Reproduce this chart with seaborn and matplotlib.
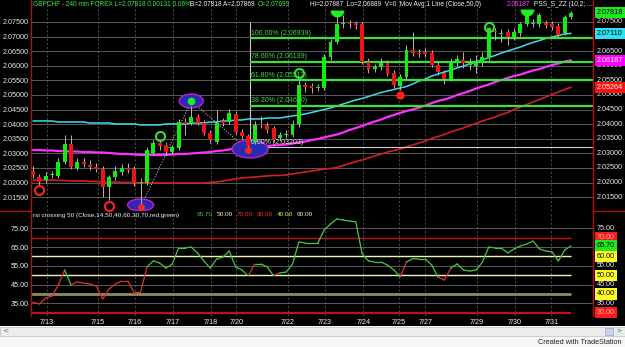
import numpy as np
import pandas as pd
import matplotlib
matplotlib.use("Agg")
import matplotlib.pyplot as plt
import matplotlib.transforms as mtrans
from matplotlib.patches import Ellipse, Rectangle
from matplotlib.path import Path
from matplotlib.lines import Line2D
import seaborn as sns

# ---------------- data ----------------
opens = [2.02397, 2.02192, 2.02089, 2.02260, 2.02226, 2.02705, 2.03322, 2.02500, 2.02705, 2.02603,
         2.02534, 2.02466, 2.01849, 2.02192, 2.02363, 2.02500, 2.02466, 2.01986, 2.01986, 2.03014,
         2.03356, 2.03288, 2.03048, 2.03185, 2.04075, 2.04041, 2.04247, 2.04041, 2.03699, 2.03390,
         2.04110, 2.04075, 2.04349, 2.03733, 2.03596, 2.03390, 2.04007, 2.03973, 2.03870, 2.03527,
         2.03630, 2.03630, 2.04007, 2.05342, 2.05308, 2.05240, 2.05240, 2.06301, 2.06815, 2.07432,
         2.07466, 2.07466, 2.07432, 2.06130, 2.05890, 2.05959, 2.06096, 2.05753, 2.05308, 2.05616,
         2.06541, 2.06438, 2.06473, 2.06438, 2.06027, 2.05753, 2.05548, 2.06096, 2.06199, 2.06027,
         2.05993, 2.06096, 2.06267, 2.07192, 2.07089, 2.07158, 2.06986, 2.07123, 2.07432, 2.07432,
         2.07432, 2.07466, 2.07432, 2.07363, 2.07123, 2.07671]
highs = [2.02568, 2.02295, 2.02363, 2.02397, 2.02842, 2.03630, 2.03630, 2.02842, 2.02842, 2.02774,
         2.02671, 2.02568, 2.02260, 2.02568, 2.02637, 2.02671, 2.02568, 2.02158, 2.03219, 2.03459,
         2.03425, 2.03390, 2.03288, 2.04178, 2.04212, 2.04623, 2.04349, 2.04144, 2.03801, 2.04486,
         2.04212, 2.04521, 2.04452, 2.03836, 2.03664, 2.04110, 2.04281, 2.04075, 2.03938, 2.03733,
         2.03801, 2.04144, 2.05514, 2.05445, 2.05411, 2.05377, 2.06404, 2.06918, 2.07808, 2.07740,
         2.07568, 2.07534, 2.07500, 2.06267, 2.06062, 2.06267, 2.06199, 2.05856, 2.05719, 2.06712,
         2.07158, 2.06575, 2.06610, 2.06541, 2.06130, 2.05856, 2.06267, 2.06370, 2.06473, 2.06267,
         2.06370, 2.06473, 2.07329, 2.07295, 2.07260, 2.07260, 2.07295, 2.07500, 2.07808, 2.07603,
         2.07808, 2.07568, 2.07534, 2.07466, 2.07740, 2.07877]
lows = [2.02158, 2.01884, 2.01986, 2.02158, 2.02158, 2.02637, 2.02466, 2.02431, 2.02534, 2.02431,
        2.02363, 2.01507, 2.01404, 2.02089, 2.02260, 2.02329, 2.01884, 2.01164, 2.01918, 2.02945,
        2.03116, 2.02945, 2.02979, 2.03116, 2.03630, 2.03973, 2.03973, 2.03630, 2.03356, 2.03322,
        2.03938, 2.04007, 2.03664, 2.03493, 2.03203, 2.03322, 2.03870, 2.03699, 2.03390, 2.03425,
        2.03527, 2.03562, 2.03904, 2.05103, 2.05068, 2.05137, 2.05171, 2.06199, 2.06747, 2.07295,
        2.07295, 2.07260, 2.06062, 2.05753, 2.05788, 2.05856, 2.05651, 2.05240, 2.05171, 2.05548,
        2.06336, 2.06301, 2.06301, 2.05959, 2.05685, 2.05377, 2.05479, 2.05993, 2.05925, 2.05856,
        2.05753, 2.05993, 2.06199, 2.06884, 2.06815, 2.06712, 2.06884, 2.07021, 2.07363, 2.07329,
        2.07329, 2.07295, 2.07226, 2.06986, 2.07055, 2.07603]
closes = [2.02260, 2.02021, 2.02226, 2.02295, 2.02705, 2.03322, 2.02534, 2.02705, 2.02637, 2.02534,
          2.02466, 2.01849, 2.02192, 2.02397, 2.02500, 2.02431, 2.01986, 2.02021, 2.03116, 2.03356,
          2.03253, 2.03048, 2.03219, 2.04075, 2.04007, 2.04247, 2.04041, 2.03699, 2.03459, 2.04041,
          2.04041, 2.04384, 2.03733, 2.03596, 2.03253, 2.03973, 2.03973, 2.03801, 2.03459, 2.03630,
          2.03664, 2.04007, 2.05342, 2.05274, 2.05240, 2.05274, 2.06301, 2.06815, 2.07432, 2.07466,
          2.07432, 2.07397, 2.06130, 2.05856, 2.05959, 2.06096, 2.05719, 2.05342, 2.05616, 2.06541,
          2.06438, 2.06404, 2.06404, 2.06027, 2.05788, 2.05548, 2.06130, 2.06233, 2.06096, 2.06096,
          2.06130, 2.06301, 2.07295, 2.07158, 2.07123, 2.06986, 2.07158, 2.07432, 2.07740, 2.07466,
          2.07740, 2.07397, 2.07329, 2.07055, 2.07671, 2.07818]
ma_cyan = [2.04110, 2.04110, 2.04110, 2.04110, 2.04075, 2.04075, 2.04075, 2.04075, 2.04075, 2.04041,
           2.04041, 2.04041, 2.04041, 2.04007, 2.04007, 2.04007, 2.04007, 2.03973, 2.03973, 2.03973,
           2.03973, 2.04007, 2.04007, 2.04007, 2.04007, 2.04041, 2.04041, 2.04041, 2.04075, 2.04075,
           2.04110, 2.04110, 2.04144, 2.04144, 2.04178, 2.04178, 2.04178, 2.04212, 2.04212, 2.04212,
           2.04247, 2.04281, 2.04315, 2.04349, 2.04401, 2.04452, 2.04503, 2.04555, 2.04623, 2.04692,
           2.04760, 2.04829, 2.04880, 2.04949, 2.05017, 2.05086, 2.05137, 2.05188, 2.05240, 2.05291,
           2.05377, 2.05479, 2.05548, 2.05651, 2.05719, 2.05788, 2.05856, 2.05925, 2.05993, 2.06062,
           2.06130, 2.06199, 2.06284, 2.06353, 2.06438, 2.06507, 2.06575, 2.06644, 2.06729, 2.06798,
           2.06866, 2.06935, 2.06986, 2.07038, 2.07089, 2.07110]
ma_magenta = [2.03116, 2.03116, 2.03099, 2.03099, 2.03082, 2.03082, 2.03065, 2.03065, 2.03048, 2.03048,
              2.03031, 2.03031, 2.03014, 2.02997, 2.02979, 2.02979, 2.02962, 2.02945, 2.02945, 2.02945,
              2.02945, 2.02945, 2.02962, 2.02979, 2.02979, 2.02997, 2.03014, 2.03031, 2.03048, 2.03082,
              2.03099, 2.03134, 2.03168, 2.03185, 2.03202, 2.03219, 2.03236, 2.03253, 2.03271, 2.03288,
              2.03305, 2.03339, 2.03373, 2.03407, 2.03459, 2.03493, 2.03545, 2.03596, 2.03647, 2.03716,
              2.03801, 2.03870, 2.03938, 2.04024, 2.04092, 2.04161, 2.04247, 2.04315, 2.04384, 2.04452,
              2.04503, 2.04572, 2.04640, 2.04726, 2.04795, 2.04846, 2.04914, 2.05000, 2.05068, 2.05137,
              2.05223, 2.05291, 2.05360, 2.05445, 2.05514, 2.05582, 2.05651, 2.05702, 2.05771, 2.05839,
              2.05890, 2.05959, 2.06027, 2.06079, 2.06147, 2.06187]
ma_red = [2.02089, 2.02089, 2.02089, 2.02089, 2.02072, 2.02072, 2.02055, 2.02055, 2.02055, 2.02038,
          2.02038, 2.02021, 2.02021, 2.02021, 2.02003, 2.02003, 2.02003, 2.01986, 2.01986, 2.01986,
          2.01986, 2.01986, 2.01986, 2.01986, 2.01986, 2.01986, 2.01986, 2.01986, 2.02003, 2.02021,
          2.02055, 2.02089, 2.02123, 2.02158, 2.02175, 2.02192, 2.02209, 2.02226, 2.02243, 2.02243,
          2.02260, 2.02295, 2.02329, 2.02363, 2.02397, 2.02431, 2.02466, 2.02483, 2.02517, 2.02586,
          2.02654, 2.02723, 2.02774, 2.02842, 2.02911, 2.02979, 2.03048, 2.03099, 2.03151, 2.03219,
          2.03288, 2.03356, 2.03425, 2.03510, 2.03579, 2.03647, 2.03733, 2.03801, 2.03870, 2.03955,
          2.04024, 2.04110, 2.04178, 2.04247, 2.04332, 2.04401, 2.04503, 2.04589, 2.04675, 2.04760,
          2.04846, 2.04932, 2.05017, 2.05103, 2.05188, 2.05264]
rsi = [35.7, 34.6, 37.8, 38.9, 44.8, 52.8, 44.8, 46.4, 45.8, 45.3,
       44.2, 37.3, 42.6, 45.3, 46.9, 46.9, 40.5, 41.0, 54.4, 57.6,
       56.5, 53.8, 56.0, 64.5, 64.5, 65.0, 61.8, 57.6, 53.8, 58.6,
       59.7, 62.9, 54.4, 52.8, 49.6, 56.0, 56.0, 54.4, 49.8, 51.2,
       51.7, 56.0, 67.7, 67.2, 67.2, 67.2, 74.1, 77.3, 80.0, 79.4,
       78.9, 78.4, 61.3, 57.6, 57.0, 57.0, 55.4, 52.8, 49.2, 57.0,
       58.9, 58.6, 58.6, 55.4, 49.0, 47.4, 53.8, 56.0, 52.8, 52.2,
       52.8, 57.0, 65.0, 64.5, 64.5, 61.8, 64.0, 65.6, 66.6, 68.2,
       64.0, 62.9, 62.4, 57.6, 63.4, 65.7]

date_labels = ["7/13", "7/15", "7/16", "7/17", "7/18", "7/20", "7/22", "7/23",
               "7/24", "7/25", "7/27", "7/29", "7/30", "7/31"]
date_bars = [2.2, 10.2, 16.1, 22.1, 28.1, 32.1, 40.3, 46.1, 52.2, 57.8, 62.0, 70.1, 76.1, 81.9]
price_ticks = [2.015, 2.020, 2.025, 2.030, 2.035, 2.040, 2.045, 2.050, 2.055, 2.060, 2.065, 2.070, 2.075]
price_right_plain = [2.015, 2.020, 2.025, 2.030, 2.035, 2.040, 2.045, 2.050, 2.055, 2.060, 2.065, 2.075]
rsi_grid = [35, 45, 55, 65, 75]
rsi_left = [75, 65, 55, 45, 35]
rsi_right_plain = [75, 55, 45, 35]

fib_names = ["0.00%", "38.20%", "61.80%", "78.60%", "100.00%"]
fib_levels = [2.03203, 2.04630, 2.05512, 2.06139, 2.06939]
fib_start_bar = 34.3

low_circle_bars = [1, 12]
low_circle_prices = [2.01747, 2.01199]
high_circle_bars = [20, 42, 72]
high_circle_prices = [2.03596, 2.05753, 2.07329]
pivot_bars = [17, 25, 34]
pivot_prices = [2.01164, 2.04795, 2.03116]
ellipse_bars = [17, 25, 34.3]
ellipse_prices = [2.01233, 2.04795, 2.03151]
top_bars = [48, 78]
top_prices = [2.07911, 2.07945]
dot_bars = [58]
dot_prices = [2.05000]

last_price = 2.07818
ma_labels = [(2.07110, "#29e3f5"), (2.06187, "#ff00ff"), (2.05264, "#ff1010")]

# ---------------- layout helpers ----------------
W, H = 625, 347
X0, DX = 33.0, 6.33          # pixel of first bar, pixels per bar
L, R = 31, 593               # plot area edges (px)
P_TOP, P_BOT = 2.08253, 2.01027
R_TOP, R_BOT = 83.69, 28.25
PPX = (P_TOP - P_BOT) / 211.0

sns.set_theme(style="dark", rc={"axes.facecolor": "black", "axes.grid": False})
plt.rcParams['font.family'] = ['Liberation Sans', 'DejaVu Sans']

fig = plt.figure(figsize=(6.25, 3.47), dpi=100)
fig.patch.set_facecolor('#f7f7f7')
fig.patches.append(Rectangle((0, 1 - 326 / H), 1, 326 / H, transform=fig.transFigure,
                             facecolor='black', edgecolor='none', zorder=-10))

ax1 = fig.add_axes([L / W, 1 - 211 / H, (R - L) / W, 211 / H])
ax2 = fig.add_axes([L / W, 1 - 316 / H, (R - L) / W, (316 - 212) / H])
xlim = ((L - X0) / DX, (R - X0) / DX)
for ax in (ax1, ax2):
    ax.set_facecolor('black')
    ax.set_xlim(*xlim)
    for s in ax.spines.values():
        s.set_visible(False)
ax1.set_ylim(P_BOT, P_TOP)
ax2.set_ylim(R_BOT, R_TOP)

GRID = '#5a5a5a'
ax1.hlines(price_ticks, *xlim, color=GRID, lw=0.7, zorder=0.5)
ax2.hlines(rsi_grid, *xlim, color=GRID, lw=0.7, zorder=0.5)
for ax in (ax1, ax2):
    ax.vlines(date_bars, *ax.get_ylim(), color=GRID, lw=0.6, linestyles=(0, (2.5, 2.5)), zorder=0.6)

# ---------------- price panel ----------------
idx = np.arange(len(opens))
o, h, l, c = (np.array(v) for v in (opens, highs, lows, closes))
up = c >= o
min_h = 1.6 * PPX
raw_h = np.abs(c - o)
body_h = np.maximum(raw_h, min_h)
body_b = np.where(raw_h < min_h, (o + c) / 2 - min_h / 2, np.minimum(o, c))

df_ma = pd.DataFrame({'bar': idx, 'cyan': ma_cyan, 'magenta': ma_magenta, 'red': ma_red})
sns.lineplot(data=df_ma, x='bar', y='red', ax=ax1, color='#d42020', lw=1.2, zorder=2)
sns.lineplot(data=df_ma, x='bar', y='magenta', ax=ax1, color='#ff30ff', lw=1.6, zorder=2)
sns.lineplot(data=df_ma, x='bar', y='cyan', ax=ax1, color='#40dcf0', lw=1.1, zorder=2)

# fibonacci
ax1.vlines(fib_start_bar, fib_levels[0], 2.075, color='#c8c8c8', lw=0.8, zorder=2.2)
ax1.hlines(fib_levels[0], fib_start_bar, xlim[1], color='#d0d0d0', lw=0.8, zorder=2.2)
ax1.hlines(fib_levels[1:], fib_start_bar, xlim[1], color='#3ee03e', lw=1.6, zorder=2.2)

# zigzag
ax1.plot(pivot_bars, pivot_prices, color='#bdbdbd', lw=0.7, ls=(0, (1.2, 1.6)), zorder=2.4)

# ellipses
ell_w = [26, 24, 36]
ell_h = [12, 14, 18]
for b, p, w, hh in zip(ellipse_bars, ellipse_prices, ell_w, ell_h):
    ax1.add_patch(Ellipse((b, p), w / DX, hh * PPX, facecolor='#2a2ab4', edgecolor='#d020d0',
                          lw=0.9, zorder=2.5))

for k, (name, lev) in enumerate(zip(fib_names, fib_levels)):
    ax1.text(fib_start_bar + 0.1, lev + 1.5 * PPX, f"{name} ({lev:.5f})",
             color='#e6e6e6' if k == 0 else '#3ee03e', fontsize=5.0, ha='left', va='bottom', zorder=2.7)

ax1.vlines(idx, l, h, color='#b4b4b4', lw=0.7, zorder=3)
ax1.bar(idx, body_h, bottom=body_b, width=0.62,
        color=np.where(up, '#10ee10', '#ee1414'), linewidth=0, zorder=4)

# markers
ax1.plot(low_circle_bars, low_circle_prices, 'o', mfc='none', mec='#ff2020', ms=6.5, mew=1.5, ls='none', zorder=6)
ax1.plot(high_circle_bars, high_circle_prices, 'o', mfc='none', mec='#30e030', ms=6.5, mew=1.5, ls='none', zorder=6)
ax1.plot([pivot_bars[1]], [pivot_prices[1]], 'o', color='#20ee20', ms=5.5, mew=0, zorder=6)
ax1.plot([pivot_bars[0], pivot_bars[2]], [pivot_prices[0], pivot_prices[2]], 'o', color='#ff2020', ms=5, mew=0, zorder=6)
ax1.plot(dot_bars, dot_prices, 'o', color='#ff2020', ms=6, mew=0, zorder=6)
t = np.linspace(np.pi, 2 * np.pi, 24)
bowl = Path(np.column_stack([np.cos(t), np.sin(t)]))
ax1.plot(top_bars, top_prices, ls='none', marker=bowl, color='#20ee20', ms=10, mew=0, zorder=6)

# left tick labels
ax1.set_yticks(price_ticks)
ax1.set_yticklabels([f"{v:.5f}" for v in price_ticks])
ax1.set_xticks([])
ax1.tick_params(axis='y', labelsize=5.2, colors='#e8e8e8', length=0, pad=1.5)
ax1.set_xlabel(''); ax1.set_ylabel('')

# right price labels
tr1 = mtrans.blended_transform_factory(fig.transFigure, ax1.transData)
for v in price_right_plain:
    ax1.text(597 / W, v, f"{v:.5f}", transform=tr1, color='#e8e8e8', fontsize=5.2,
             ha='left', va='center', clip_on=False, zorder=7)
box_items = [(last_price, '#20e820', 'black')] + [(v, col, 'black' if col == '#29e3f5' else 'white') for v, col in ma_labels]
for v, col, tc in box_items:
    ax1.text(597 / W, v, f"{v:.5f}", transform=tr1, color=tc, fontsize=5.2, ha='left', va='center',
             clip_on=False, zorder=8,
             bbox=dict(boxstyle='square,pad=0.3', facecolor=col, edgecolor='none'))

# ---------------- RSI panel ----------------
ax2.hlines([60, 50], xlim[0], idx[-1], color='#f4f4b8', lw=1.0, zorder=1)
ax2.hlines(40, xlim[0], idx[-1], color='#8c8a62', lw=2.0, zorder=1)
ax2.hlines(70, xlim[0], idx[-1], color='#b81818', lw=1.0, zorder=1)
ax2.hlines(30, xlim[0], idx[-1], color='#c41010', lw=1.6, zorder=1)

rows = []
for k in range(len(rsi) - 1):
    state = 'up' if rsi[k] >= 50 else 'down'
    rows.append((k, rsi[k], k, state))
    rows.append((k + 1, rsi[k + 1], k, state))
df_rsi = pd.DataFrame(rows, columns=['bar', 'rsi', 'seg', 'state'])
sns.lineplot(data=df_rsi, x='bar', y='rsi', units='seg', estimator=None, hue='state',
             palette={'up': '#44c844', 'down': '#e03030'}, legend=False, lw=0.9, ax=ax2, zorder=5)

ax2.set_yticks(rsi_left)
ax2.set_yticklabels([f"{v:.2f}" for v in rsi_left])
ax2.set_xticks(date_bars)
ax2.set_xticklabels(date_labels)
ax2.tick_params(axis='both', labelsize=5.2, colors='#f0f0f0', length=0)
ax2.tick_params(axis='y', pad=1.5)
ax2.tick_params(axis='x', pad=2.5)
ax2.set_xlabel(''); ax2.set_ylabel('')

tr2 = mtrans.blended_transform_factory(fig.transFigure, ax2.transData)
for v in rsi_right_plain:
    ax2.text(597 / W, v, f"{v:.2f}", transform=tr2, color='#e8e8e8', fontsize=5.2,
             ha='left', va='center', clip_on=False, zorder=7)
rsi_boxes = [(70, '#ff1a1a', '#ffb0b0'), (rsi[-1], '#20e820', 'black'), (60, '#ffff20', 'black'),
             (50, '#ffff20', 'black'), (40, '#ffff20', 'black'), (30, '#ff1a1a', '#ffb0b0')]
for v, col, tc in rsi_boxes:
    ax2.text(597 / W, v, f"{v:.2f}", transform=tr2, color=tc, fontsize=5.2, ha='left', va='center',
             clip_on=False, zorder=8,
             bbox=dict(boxstyle='square,pad=0.3', facecolor=col, edgecolor='none'))

# ---------------- frame lines ----------------
def fline(x0, y0, x1, y1, col, lw=1.0):
    fig.add_artist(Line2D([x0 / W, x1 / W], [1 - y0 / H, 1 - y1 / H], color=col, lw=lw,
                          transform=fig.transFigure, zorder=9))

fline(L, 0, L, 316, '#b01010')
fline(R, 0, R, 316, '#b01010')
fline(0, 211, L, 211, '#b01010')
fline(R, 211, W, 211, '#b01010')

# ---------------- texts ----------------
def ftext(px, py, s, color, size=4.7, ha='left'):
    fig.text(px / W, 1 - py / H, s, color=color, fontsize=size, ha=ha, va='center', zorder=10)

GREEN = '#3cf03c'
ftext(33, 5, "GBPCHF - 240 min FOREX L=2.07818 0.00131 0.06%", GREEN)
ftext(190, 5, "B=2.07818 A=2.07869", '#f0f0f0')
ftext(258, 5, "O=2.07699", GREEN)
ftext(310, 5, "Hi=2.07887  Lo=2.06889  V=0  Mov Avg 1 Line (Close,50,0)", '#f0f0f0')
ftext(507, 5, "2.06187", '#ff40ff')
ftext(534, 5, "PSS_S_ZZ (10,2; ...", '#f0f0f0')

ftext(33, 215, "rsi crossing 50 (Close,14,50,40,60,30,70,red,green)", '#f0f0f0', size=4.6)
ftext(197, 215, "65.70", '#44c844', size=4.6)
ftext(217, 215, "50.00", '#f4f4b8', size=4.6)
ftext(237, 215, "70.00", '#ff3030', size=4.6)
ftext(257, 215, "30.00", '#ff3030', size=4.6)
ftext(277, 215, "40.00", '#f0f040', size=4.6)
ftext(297, 215, "60.00", '#f4f4b8', size=4.6)

# bottom scrollbar + credit
fig.patches.append(Rectangle((0, 1 - 336 / H), 1, 9 / H, transform=fig.transFigure,
                             facecolor='#ececec', edgecolor='#c8c8c8', lw=0.6, zorder=-5))
ftext(4, 331.5, "<", '#2a5cc0', size=6)
fig.patches.append(Rectangle((605 / W, 1 - 335 / H), 8 / W, 7 / H, transform=fig.transFigure,
                             facecolor='#c8d4ec', edgecolor='#98a8c8', lw=0.5, zorder=-4))
ftext(617, 331.5, ">", '#2a5cc0', size=6)
ftext(622, 342, "Created with TradeStation", '#202020', size=5.2, ha='right')

fig.savefig("out.png", dpi=100, facecolor=fig.get_facecolor())
